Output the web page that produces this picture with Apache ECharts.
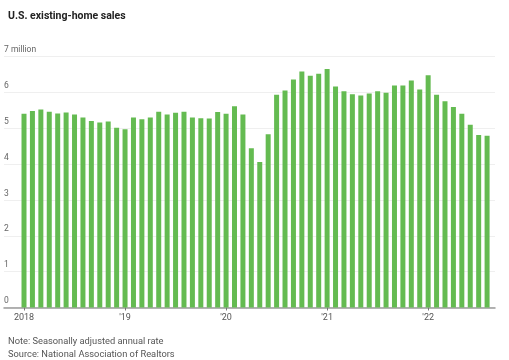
<!DOCTYPE html>
<html>
<head>
<meta charset="utf-8">
<script src="https://cdn.jsdelivr.net/npm/echarts@6/dist/echarts.min.js"></script>
<style>
html,body{margin:0;padding:0;background:#fff;}
#c{width:509px;height:360px;}
</style>
</head>
<body>
<div id="c"></div>
<script>
const categories = [
  '2018-01','2018-02','2018-03','2018-04','2018-05','2018-06','2018-07','2018-08','2018-09','2018-10','2018-11','2018-12',
  '2019-01','2019-02','2019-03','2019-04','2019-05','2019-06','2019-07','2019-08','2019-09','2019-10','2019-11','2019-12',
  '2020-01','2020-02','2020-03','2020-04','2020-05','2020-06','2020-07','2020-08','2020-09','2020-10','2020-11','2020-12',
  '2021-01','2021-02','2021-03','2021-04','2021-05','2021-06','2021-07','2021-08','2021-09','2021-10','2021-11','2021-12',
  '2022-01','2022-02','2022-03','2022-04','2022-05','2022-06','2022-07','2022-08'
];
const sales = [
  5.40, 5.48, 5.52, 5.46, 5.41, 5.44, 5.38, 5.30, 5.20, 5.16, 5.19, 5.01,
  4.97, 5.30, 5.25, 5.30, 5.46, 5.38, 5.43, 5.46, 5.30, 5.28, 5.27, 5.45,
  5.40, 5.61, 5.38, 4.44, 4.06, 4.83, 5.93, 6.05, 6.36, 6.58, 6.46, 6.52,
  6.65, 6.16, 6.03, 5.95, 5.91, 5.97, 6.03, 5.99, 6.19, 6.19, 6.33, 6.08,
  6.48, 5.93, 5.75, 5.59, 5.40, 5.10, 4.81, 4.79
];
const yearTickLabels = {'2018-01':'2018','2019-01':"'19",'2020-01':"'20",'2021-01':"'21",'2022-01':"'22"};
const yTickLabels = ['0','1','2','3','4','5','6','7 million'];

const FONT = 'Roboto, "Liberation Sans", sans-serif';
const chart = echarts.init(document.getElementById('c'), null, {renderer:'canvas'});
const gridTop = 56.5, gridBottom = 52.5;
chart.setOption({
  animation: false,
  title: [
    {text:'U.S. existing-home sales', left:3, top:6, textStyle:{fontFamily:FONT, fontSize:10.5, fontWeight:'bold', color:'#222'}},
    {text:'Note: Seasonally adjusted annual rate\nSource: National Association of Realtors', left:3, top:330,
     textStyle:{fontFamily:FONT, fontSize:9.3, fontWeight:'normal', color:'#555', lineHeight:13}}
  ],
  grid: [
    {left:4, right:14, top:gridTop, bottom:gridBottom},
    {left:19.8, right:17.7, top:gridTop, bottom:gridBottom}
  ],
  xAxis: [
    {type:'value', gridIndex:0, min:0, max:1, show:true,
     axisLine:{show:true, onZero:false, lineStyle:{color:'#9a9a9a', width:1.5}},
     axisTick:{show:false}, axisLabel:{show:false}, splitLine:{show:false}},
    {type:'category', gridIndex:1, data:categories, boundaryGap:true,
     axisLine:{show:false},
     axisTick:{show:true, alignWithLabel:true, length:3, lineStyle:{color:'#777'},
       interval:(i, v) => yearTickLabels[v] !== undefined},
     axisLabel:{show:true, margin:6, fontFamily:FONT, fontSize:9, color:'#555',
       interval:(i, v) => yearTickLabels[v] !== undefined,
       formatter:(v) => yearTickLabels[v] || ''}}
  ],
  yAxis: [
    {type:'value', gridIndex:0, min:0, max:7, interval:1,
     axisLine:{show:false}, axisTick:{show:false},
     splitLine:{show:true, lineStyle:{color:'#efefef', width:1}},
     axisLabel:{inside:true, margin:0, align:'left', verticalAlign:'bottom', padding:[0,0,2,0],
       fontFamily:FONT, fontSize:8.5, color:'#666', formatter:(v) => yTickLabels[v]}},
    {type:'value', gridIndex:1, min:0, max:7, interval:1, show:false, splitLine:{show:false}}
  ],
  series: [
    {type:'bar', xAxisIndex:1, yAxisIndex:1, data:sales, barWidth:5,
     itemStyle:{color:'#64bb51'}}
  ]
});
</script>
</body>
</html>
